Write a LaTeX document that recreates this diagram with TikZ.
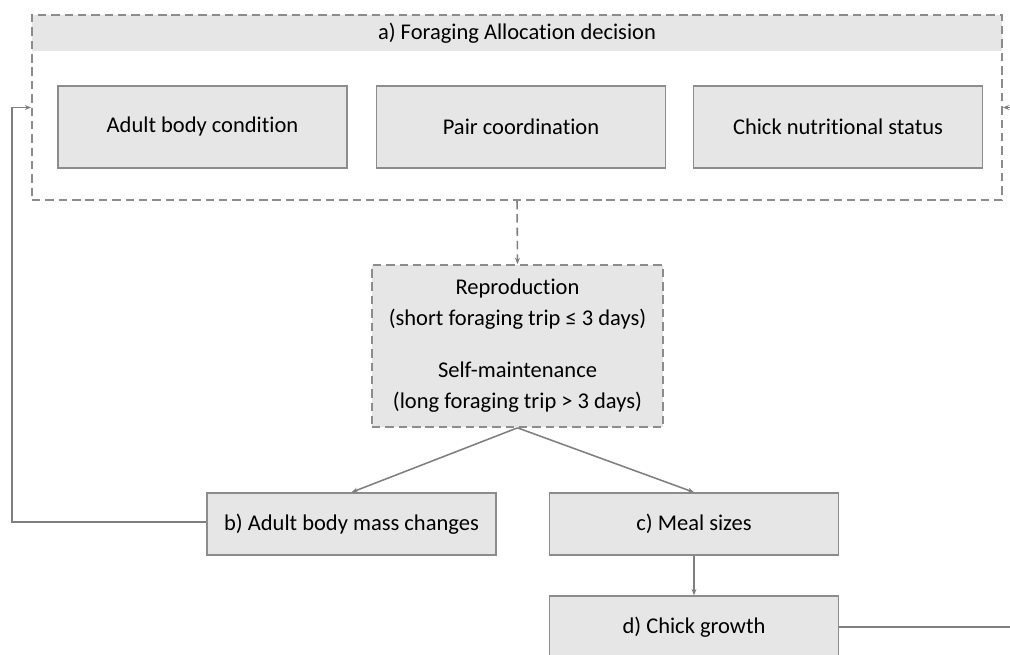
\documentclass[tikz,border=0pt]{standalone}
\usepackage{fontspec}
\setmainfont{Carlito}[Ligatures=NoCommon]
\usetikzlibrary{positioning, arrows.meta}
\definecolor{boxfill}{HTML}{E6E6E6}
\definecolor{boxline}{HTML}{8C8C8C}
\definecolor{linkline}{HTML}{7F7F7F}
\begin{document}
\begin{tikzpicture}[x=0.025cm, y=-0.025cm,
  font=\fontsize{16}{22}\selectfont,
  box/.style={draw=boxline, fill=boxfill, line width=1pt, minimum width=289*0.025cm, inner sep=0pt},
  dashbox/.style={draw=boxline, line width=1.2pt, dash pattern=on 6pt off 3.5pt, inner sep=0pt},
  link/.style={draw=linkline, line width=1.1pt, -{Stealth[length=4.5pt, width=3.5pt]}}]
  \useasboundingbox (0,0) rectangle (1010,655);
  \node[fill=boxfill, minimum width=970*0.025cm, minimum height=36*0.025cm, inner sep=0pt] (title) at (517,33) {a) Foraging Allocation decision};
  \node[dashbox, minimum width=970*0.025cm, minimum height=185*0.025cm] (alloc) at (517,107.5) {};
  \node[box, minimum height=82*0.025cm] (body) at (202.5,127) {Adult body condition};
  \node[box, minimum height=82*0.025cm] (pair) at (521,127) {Pair coordination};
  \node[box, minimum height=82*0.025cm] (chick) at (838,127) {Chick nutritional status};
  \node[dashbox, fill=boxfill, minimum width=291*0.025cm, minimum height=162*0.025cm, align=center] (choice) at (517.5,346)
    {Reproduction\\(short foraging trip ≤ 3 days)\\[15pt]Self-maintenance\\(long foraging trip > 3 days)};
  \node[box, minimum height=62*0.025cm] (mass) at (351.5,524) {b) Adult body mass changes};
  \node[box, minimum height=62*0.025cm] (meal) at (694,524) {c) Meal sizes};
  \node[box, minimum height=62*0.025cm] (growth) at (694,627) {d) Chick growth};
  \coordinate (lturn) at (12,522);
  \coordinate (rturn) at (1030,627);
  \draw[link, dash pattern=on 6pt off 3.5pt] (alloc.south) -- (choice.north);
  \draw[link] (choice.south) -- (mass.north);
  \draw[link] (choice.south) -- (meal.north);
  \draw[link] (meal.south) -- (growth.north);
  \draw[link] (mass.west |- lturn) -- (lturn) |- (alloc.west);
  \draw[link] (growth.east) -- (rturn) |- (alloc.east);
\end{tikzpicture}
\end{document}
